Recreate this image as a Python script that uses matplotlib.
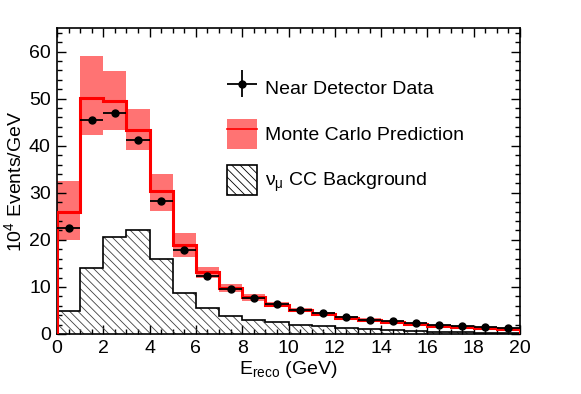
import numpy as np
import matplotlib
matplotlib.use("Agg")
import matplotlib.pyplot as plt
from matplotlib.patches import Patch
from matplotlib.lines import Line2D
from matplotlib.ticker import MultipleLocator
from matplotlib.legend_handler import HandlerErrorbar
from matplotlib.container import ErrorbarContainer

# ---- data ----
bin_edges = list(range(0, 21))
data_vals = [22.6, 45.4, 47.0, 41.2, 28.2, 17.8, 12.3, 9.5, 7.7, 6.3,
             5.1, 4.4, 3.7, 3.05, 2.7, 2.27, 1.9, 1.6, 1.4, 1.2]
data_err = [0.3, 0.4, 0.4, 0.4, 0.3, 0.25, 0.2, 0.15, 0.12, 0.1,
            0.1, 0.08, 0.07, 0.06, 0.05, 0.05, 0.04, 0.04, 0.03, 0.03]
mc_vals = [25.9, 50.1, 49.5, 43.4, 30.4, 18.8, 13.2, 9.7, 7.8, 6.2,
           5.1, 4.2, 3.5, 3.05, 2.5, 2.05, 1.7, 1.4, 1.2, 1.07]
mc_hi = [32.6, 59.1, 55.9, 47.9, 34.0, 21.4, 14.2, 10.6, 8.4, 6.7,
         5.5, 4.6, 3.8, 3.3, 2.75, 2.25, 1.9, 1.6, 1.35, 1.2]
mc_lo = [19.9, 42.2, 43.4, 39.0, 26.2, 16.4, 11.9, 9.0, 7.1, 5.7,
         4.7, 3.85, 3.2, 2.8, 2.3, 1.85, 1.5, 1.2, 1.05, 0.93]
bkg_vals = [4.8, 14.1, 20.6, 22.0, 15.9, 8.8, 5.6, 3.9, 3.05, 2.5,
            1.9, 1.6, 1.3, 1.07, 0.85, 0.64, 0.5, 0.35, 0.3, 0.25]
labels = ["Near Detector Data", "Monte Carlo Prediction",
          r"$\mathregular{\nu_{\mu}}$ CC Background"]

plt.rcParams['font.family'] = ['Liberation Sans', 'DejaVu Sans']
plt.rcParams['mathtext.fontset'] = 'custom'
plt.rcParams['mathtext.rm'] = 'Liberation Sans'
plt.rcParams['mathtext.it'] = 'Liberation Sans'
plt.rcParams['hatch.linewidth'] = 0.6

FS = 14

edges = np.array(bin_edges, dtype=float)
centers = 0.5 * (edges[:-1] + edges[1:])
widths = np.diff(edges)
hi = np.array(mc_hi); lo = np.array(mc_lo)

fig = plt.figure(figsize=(5.81, 3.94), dpi=100)
ax = fig.add_axes([57/581, 60/394, 463/581, 306/394])

band_color = '#ff6464'
ax.bar(centers, hi - lo, bottom=lo, width=widths, color=band_color, alpha=0.9,
       linewidth=0, zorder=1)
ax.stairs(bkg_vals, edges, fill=True, facecolor='none', edgecolor='0.25',
          hatch='\\\\\\\\', linewidth=0, zorder=2)
ax.stairs(bkg_vals, edges, color='black', linewidth=1.2, zorder=3)
ax.stairs(mc_vals, edges, color='red', linewidth=2.2, zorder=4)
h_data = ax.errorbar(centers, data_vals, xerr=widths / 2, yerr=data_err, fmt='o',
                     color='black', ms=5, elinewidth=1.3, capsize=0, zorder=5)

ax.set_xlim(0, 20)
ax.set_ylim(0, 65)
ax.xaxis.set_major_locator(MultipleLocator(2))
ax.xaxis.set_minor_locator(MultipleLocator(0.5))
ax.yaxis.set_major_locator(MultipleLocator(10))
ax.yaxis.set_minor_locator(MultipleLocator(2))
ax.tick_params(which='both', direction='in', top=True, right=True, labelsize=FS)
ax.tick_params(which='major', length=6.5, width=1)
ax.tick_params(which='minor', length=3.3, width=1)
ax.tick_params(axis='x', pad=4)
ax.tick_params(axis='y', pad=4.5)
for s in ax.spines.values():
    s.set_linewidth(1.2)

ax.set_xlabel(r"E$\mathregular{_{reco}}$ (GeV)", fontsize=FS, labelpad=2)
ax.set_ylabel(r"10$\mathregular{^4}$ Events/GeV", fontsize=FS, labelpad=3)

h_mc = (Patch(facecolor=band_color, alpha=0.9, linewidth=0),
        Line2D([], [], color='red', lw=1.2))
h_bkg = Patch(facecolor='white', edgecolor='black', hatch='\\\\\\\\', linewidth=1.2)
leg = ax.legend([h_data, h_mc, h_bkg], labels, loc='upper left',
                bbox_to_anchor=(227/581, 1 - 73/394), bbox_transform=fig.transFigure,
                borderaxespad=0, borderpad=0,
                frameon=False, fontsize=FS,
                handlelength=1.54, handleheight=2.0, labelspacing=0.81,
                handletextpad=0.4,
                handler_map={ErrorbarContainer: HandlerErrorbar(xerr_size=0.77, yerr_size=0.7)})

fig.savefig("out.png", dpi=100)
